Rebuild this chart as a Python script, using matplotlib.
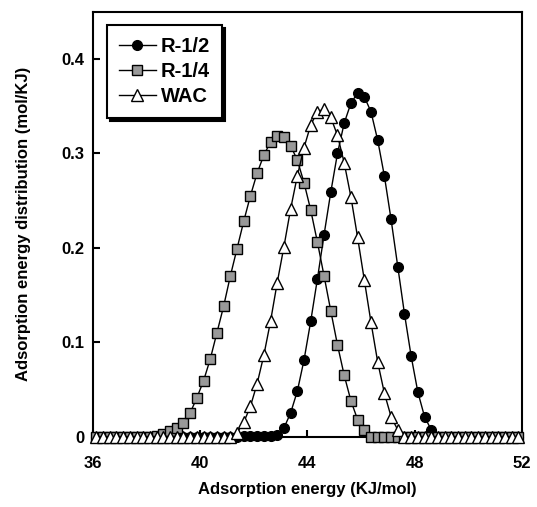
import matplotlib
matplotlib.use("Agg")
import matplotlib.pyplot as plt

plt.rcParams['font.family'] = ['Liberation Sans', 'DejaVu Sans']
plt.rcParams['font.weight'] = 'bold'

# adsorption energy grid (KJ/mol)
energy = [36.125, 36.375, 36.625, 36.875, 37.125, 37.375, 37.625, 37.875,
          38.125, 38.375, 38.625, 38.875, 39.125, 39.375, 39.625, 39.875,
          40.125, 40.375, 40.625, 40.875, 41.125, 41.375, 41.625, 41.875,
          42.125, 42.375, 42.625, 42.875, 43.125, 43.375, 43.625, 43.875,
          44.125, 44.375, 44.625, 44.875, 45.125, 45.375, 45.625, 45.875,
          46.125, 46.375, 46.625, 46.875, 47.125, 47.375, 47.625, 47.875,
          48.125, 48.375, 48.625, 48.875, 49.125, 49.375, 49.625, 49.875,
          50.125, 50.375, 50.625, 50.875, 51.125, 51.375, 51.625, 51.875]

r_half = [0, 0, 0, 0, 0, 0, 0, 0,
          0, 0, 0, 0, 0, 0, 0, 0,
          0, 0, 0, 0, 0, 0, 0.001, 0.001,
          0.001, 0.001, 0.001, 0.002, 0.009, 0.025, 0.048, 0.081,
          0.122, 0.167, 0.214, 0.259, 0.300, 0.332, 0.353, 0.364,
          0.360, 0.344, 0.314, 0.276, 0.230, 0.180, 0.130, 0.085,
          0.047, 0.021, 0.007, 0, 0, 0, 0, 0,
          0, 0, 0, 0, 0, 0, 0, 0]

r_quarter = [0, 0, 0, 0, 0, 0, 0, 0,
             0, 0.001, 0.003, 0.006, 0.009, 0.014, 0.025, 0.041,
             0.059, 0.082, 0.110, 0.138, 0.170, 0.199, 0.228, 0.255,
             0.279, 0.298, 0.312, 0.318, 0.317, 0.308, 0.293, 0.269,
             0.240, 0.206, 0.170, 0.133, 0.097, 0.065, 0.038, 0.018,
             0.007, 0, 0, 0, 0, 0, 0, 0,
             0, 0, 0, 0, 0, 0, 0, 0,
             0, 0, 0, 0, 0, 0, 0, 0]

wac = [0, 0, 0, 0, 0, 0, 0, 0,
       0, 0, 0, 0, 0, 0, 0, 0,
       0, 0, 0, 0, 0, 0.004, 0.015, 0.032,
       0.056, 0.086, 0.122, 0.163, 0.201, 0.241, 0.276, 0.306,
       0.330, 0.344, 0.347, 0.338, 0.319, 0.290, 0.254, 0.211,
       0.166, 0.121, 0.079, 0.046, 0.021, 0.007, 0, 0,
       0, 0, 0, 0, 0, 0, 0, 0,
       0, 0, 0, 0, 0, 0, 0, 0]

xticks = [36, 40, 44, 48, 52]
yticks = [0, 0.1, 0.2, 0.3, 0.4]
ytick_labels = ['0', '0.1', '0.2', '0.3', '0.4']

fig = plt.figure(figsize=(5.37, 5.07), dpi=100)
ax = fig.add_axes([0.1732, 0.1389, 0.7983, 0.838])

ax.plot(energy, r_half, '-o', color='black', lw=1.0, ms=7,
        mfc='black', mec='black', label='R-1/2', clip_on=False, zorder=3)
ax.plot(energy, r_quarter, '-s', color='black', lw=1.0, ms=7,
        mfc='#999999', mec='black', mew=1.0, label='R-1/4', clip_on=False, zorder=4)
ax.plot(energy, wac, '-^', color='black', lw=1.0, ms=8,
        mfc='white', mec='black', mew=1.0, label='WAC', clip_on=False, zorder=5)

ax.set_xlim(36, 52)
ax.set_ylim(0, 0.45)
ax.set_xticks(xticks)
ax.set_yticks(yticks)
ax.set_yticklabels(ytick_labels)
ax.tick_params(direction='in', length=5, width=1.5, labelsize=12)
ax.tick_params(axis='x', pad=14)
ax.tick_params(axis='y', pad=6)
for s in ax.spines.values():
    s.set_linewidth(1.5)

ax.set_xlabel('Adsorption energy (KJ/mol)', fontsize=12, fontweight='bold', labelpad=8)
ax.set_ylabel('Adsorption energy distribution (mol/KJ)', fontsize=12, fontweight='bold', labelpad=22)

leg = ax.legend(loc='upper left', bbox_to_anchor=(0.032, 0.969), borderaxespad=0,
                fontsize=14.5, fancybox=False, edgecolor='black', framealpha=1,
                shadow={'color': 'black', 'alpha': 1}, handlelength=1.85,
                handletextpad=0.25, labelspacing=0.3, borderpad=0.6)
leg.get_frame().set_linewidth(1.5)

fig.savefig('out.png', dpi=100)
